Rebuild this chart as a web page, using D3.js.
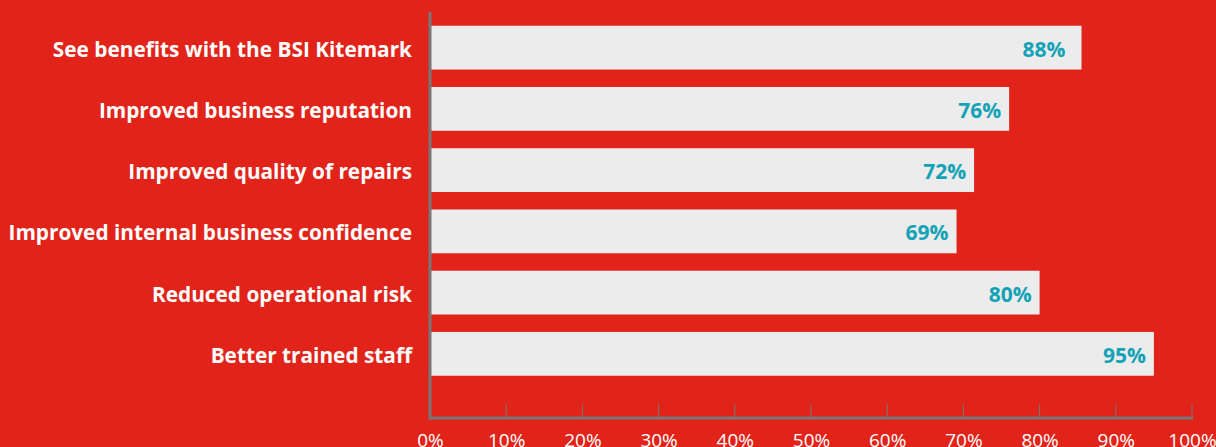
<!DOCTYPE html>
<html>
<head>
<meta charset="utf-8">
<script src="https://cdn.jsdelivr.net/npm/d3@7"></script>
<style>
  html, body { margin: 0; padding: 0; background: #e2231a; overflow: hidden; }
  svg { display: block; }
</style>
</head>
<body>
<div id="chart"></div>
<script>
// Categories, top to bottom
const categories = [
    "See benefits with the BSI Kitemark",
    "Improved business reputation",
    "Improved quality of repairs",
    "Improved internal business confidence",
    "Reduced operational risk",
    "Better trained staff"
];
// Bar lengths as drawn (percent)
const values = [85.5, 76, 71.4, 69.1, 80, 95];
// Printed value labels
const valueLabels = ["88%", "76%", "72%", "69%", "80%", "95%"];
// Axis ticks
const tickValues = [0, 10, 20, 30, 40, 50, 60, 70, 80, 90, 100];

const width = 1216;
const height = 447;
const margin = { top: 12, left: 430, right: 24, bottom: 29 };

const svg = d3.select("#chart")
    .append("svg")
    .attr("width", width)
    .attr("height", height);

const x = d3.scaleLinear()
    .domain([0, 100])
    .range([margin.left, 1192]);

const y = d3.scaleBand()
    .domain(categories)
    .range([margin.top + 1.5, 388])
    .paddingInner(0.285)
    .paddingOuter(0.2);

// Bars
svg.append("g")
    .selectAll("rect")
    .data(categories)
    .join("rect")
    .attr("x", x(0))
    .attr("y", d => y(d))
    .attr("width", (d, i) => x(values[i]) - x(0))
    .attr("height", y.bandwidth())
    .attr("fill", "#ececec");

// Value labels inside the bar ends
svg.append("g")
    .selectAll("text")
    .data(categories)
    .join("text")
    .attr("x", (d, i) => x(values[i]) - (i === 0 ? 16 : 8))
    .attr("y", d => y(d) + y.bandwidth() / 2 + 1)
    .attr("text-anchor", "end")
    .attr("dominant-baseline", "central")
    .attr("fill", "#13a2b6")
    .attr("font-family", "'Open Sans', sans-serif")
    .attr("font-weight", "bold")
    .attr("font-size", "21px")
    .text((d, i) => valueLabels[i]);

// Category labels
svg.append("g")
    .selectAll("text")
    .data(categories)
    .join("text")
    .attr("x", 412)
    .attr("y", d => y(d) + y.bandwidth() / 2 + 1)
    .attr("text-anchor", "end")
    .attr("dominant-baseline", "central")
    .attr("fill", "#ffffff")
    .attr("font-family", "'Open Sans', sans-serif")
    .attr("font-weight", "bold")
    .attr("font-size", "20.8px")
    .text(d => d);

// Bottom axis
const axisY = 418;
const xAxis = svg.append("g")
    .attr("transform", `translate(0,${axisY})`)
    .call(d3.axisBottom(x)
        .tickValues(tickValues)
        .tickSize(0)
        .tickPadding(0)
        .tickFormat(d => d + "%"));
xAxis.select(".domain").remove();
xAxis.selectAll("text")
    .attr("dy", null)
    .attr("y", 29)
    .attr("fill", "#ffffff")
    .attr("font-family", "'Open Sans', sans-serif")
    .attr("font-size", "19px");

// small tick marks above the axis line
svg.append("g")
    .selectAll("line")
    .data(tickValues.slice(1))
    .join("line")
    .attr("x1", d => x(d))
    .attr("x2", d => x(d))
    .attr("y1", axisY - 14)
    .attr("y2", axisY)
    .attr("stroke", "#777")
    .attr("stroke-width", 1);

svg.append("line")
    .attr("x1", x(0))
    .attr("x2", x(100) + 1)
    .attr("y1", axisY)
    .attr("y2", axisY)
    .attr("stroke", "#777")
    .attr("stroke-width", 3);

// Vertical axis line
svg.append("line")
    .attr("x1", x(0))
    .attr("x2", x(0))
    .attr("y1", margin.top)
    .attr("y2", axisY + 1.5)
    .attr("stroke", "#777")
    .attr("stroke-width", 3);
</script>
</body>
</html>
